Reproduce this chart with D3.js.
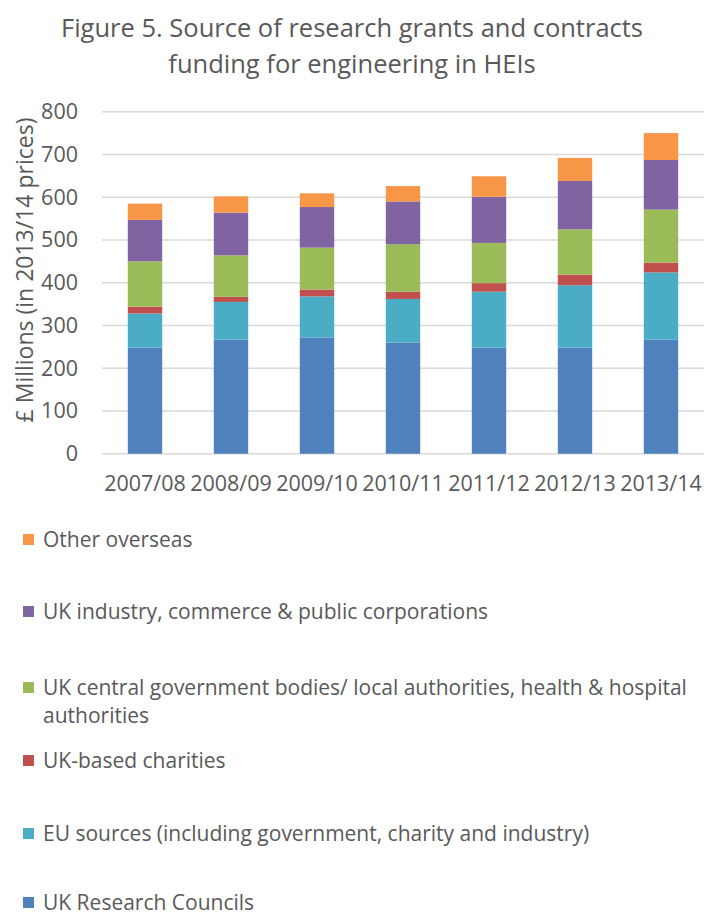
<!DOCTYPE html>
<html>
<head>
<meta charset="utf-8">
<script src="https://cdn.jsdelivr.net/npm/d3@7"></script>
<style>
  html, body { margin: 0; padding: 0; background: #fff; }
  svg { display: block; font-family: "Open Sans", "Noto Sans", sans-serif; }
</style>
</head>
<body>
<svg id="chart" width="704" height="917"></svg>
<script>
// Academic years on the x axis
const years = ["2007/08", "2008/09", "2009/10", "2010/11", "2011/12", "2012/13", "2013/14"];

// Funding by source, £ millions (2013/14 prices), stacked bottom to top
const researchCouncils = [248, 267, 272, 260, 248, 248, 267];
const euSources        = [80, 88, 96, 102, 131, 146, 157];
const charities        = [16, 12, 16, 17, 20, 25, 23];
const centralGov       = [106, 97, 98, 111, 94, 106, 124];
const industry         = [97, 100, 95, 100, 108, 113, 116];
const otherOverseas    = [38, 38, 32, 36, 48, 54, 63];

const seriesNames = [
  "UK Research Councils",
  "EU sources (including government, charity and industry)",
  "UK-based charities",
  "UK central government bodies/ local authorities, health & hospital authorities",
  "UK industry, commerce & public corporations",
  "Other overseas"
];
const seriesValues = [researchCouncils, euSources, charities, centralGov, industry, otherOverseas];
const seriesColors = ["#4F81BD", "#4BACC6", "#C0504D", "#9BBB59", "#8064A2", "#F79646"];

const yTicks = [0, 100, 200, 300, 400, 500, 600, 700, 800];

const titleLines = ["Figure 5. Source of research grants and contracts",
                    "funding for engineering in HEIs"];
const yAxisTitle = "£ Millions (in 2013/14 prices)";

// Legend lines (top to bottom) with wrapped text
const legendOrder = [5, 4, 3, 2, 1, 0];
const legendLines = [
  ["Other overseas"],
  ["UK industry, commerce & public corporations"],
  ["UK central government bodies/ local authorities, health & hospital", "authorities"],
  ["UK-based charities"],
  ["EU sources (including government, charity and industry)"],
  ["UK Research Councils"]
];

const textColor = "#595959";
const gridColor = "#D9D9D9";

const svg = d3.select("#chart");

const plot = { left: 102, right: 704, top: 111.7, bottom: 453.7 };

const x = d3.scaleBand().domain(years).range([plot.left, plot.right]).paddingInner(0.6).paddingOuter(0.3);
const y = d3.scaleLinear().domain([0, 800]).range([plot.bottom, plot.top]);

// Stack table built from the named arrays
const table = years.map((yr, i) => {
  const row = { year: yr };
  seriesNames.forEach((n, k) => { row[n] = seriesValues[k][i]; });
  return row;
});
const stacked = d3.stack().keys(seriesNames)(table);

// Title
svg.append("g").selectAll("text").data(titleLines).join("text")
  .attr("x", 352)
  .attr("y", (d, i) => 37 + i * 36)
  .attr("text-anchor", "middle")
  .attr("font-size", 25.5)
  .attr("fill", textColor)
  .text(d => d);

// Gridlines
svg.append("g").selectAll("line").data(yTicks).join("line")
  .attr("x1", plot.left).attr("x2", plot.right)
  .attr("y1", d => y(d)).attr("y2", d => y(d))
  .attr("stroke", gridColor).attr("stroke-width", 1.5);

// Y axis labels
const yAxis = d3.axisLeft(y).tickValues(yTicks).tickSize(0).tickPadding(24);
const yg = svg.append("g").attr("transform", `translate(${plot.left},0)`).call(yAxis);
yg.select(".domain").remove();
yg.selectAll("text").attr("font-size", 21.5).attr("fill", textColor)
  .attr("font-family", "Open Sans, Noto Sans, sans-serif");

// Y axis title
svg.append("text")
  .attr("transform", `translate(33,${270}) rotate(-90)`)
  .attr("text-anchor", "middle")
  .attr("font-size", 23)
  .attr("fill", textColor)
  .text(yAxisTitle);

// Bars
svg.append("g").selectAll("g").data(stacked).join("g")
  .attr("fill", (d, i) => seriesColors[i])
  .selectAll("rect").data(d => d).join("rect")
  .attr("x", d => x(d.data.year))
  .attr("width", x.bandwidth())
  .attr("y", d => y(d[1]))
  .attr("height", d => y(d[0]) - y(d[1]));

// X axis labels
const xAxis = d3.axisBottom(x).tickSize(0).tickPadding(22);
const xg = svg.append("g").attr("transform", `translate(0,${plot.bottom})`).call(xAxis);
xg.select(".domain").remove();
xg.selectAll("text").attr("font-size", 21.5).attr("fill", textColor)
  .attr("font-family", "Open Sans, Noto Sans, sans-serif");

// Legend
const legendY = [540, 612, 688, 761, 834, 903];
const lg = svg.append("g");
legendOrder.forEach((k, i) => {
  const g = lg.append("g").attr("transform", `translate(0,${legendY[i]})`);
  g.append("rect").attr("x", 23).attr("y", -6).attr("width", 11).attr("height", 11)
    .attr("fill", seriesColors[k]);
  legendLines[i].forEach((line, j) => {
    g.append("text").attr("x", 43).attr("y", j * 28).attr("dy", "0.35em")
      .attr("font-size", 21).attr("fill", textColor).text(line);
  });
});
</script>
</body>
</html>
